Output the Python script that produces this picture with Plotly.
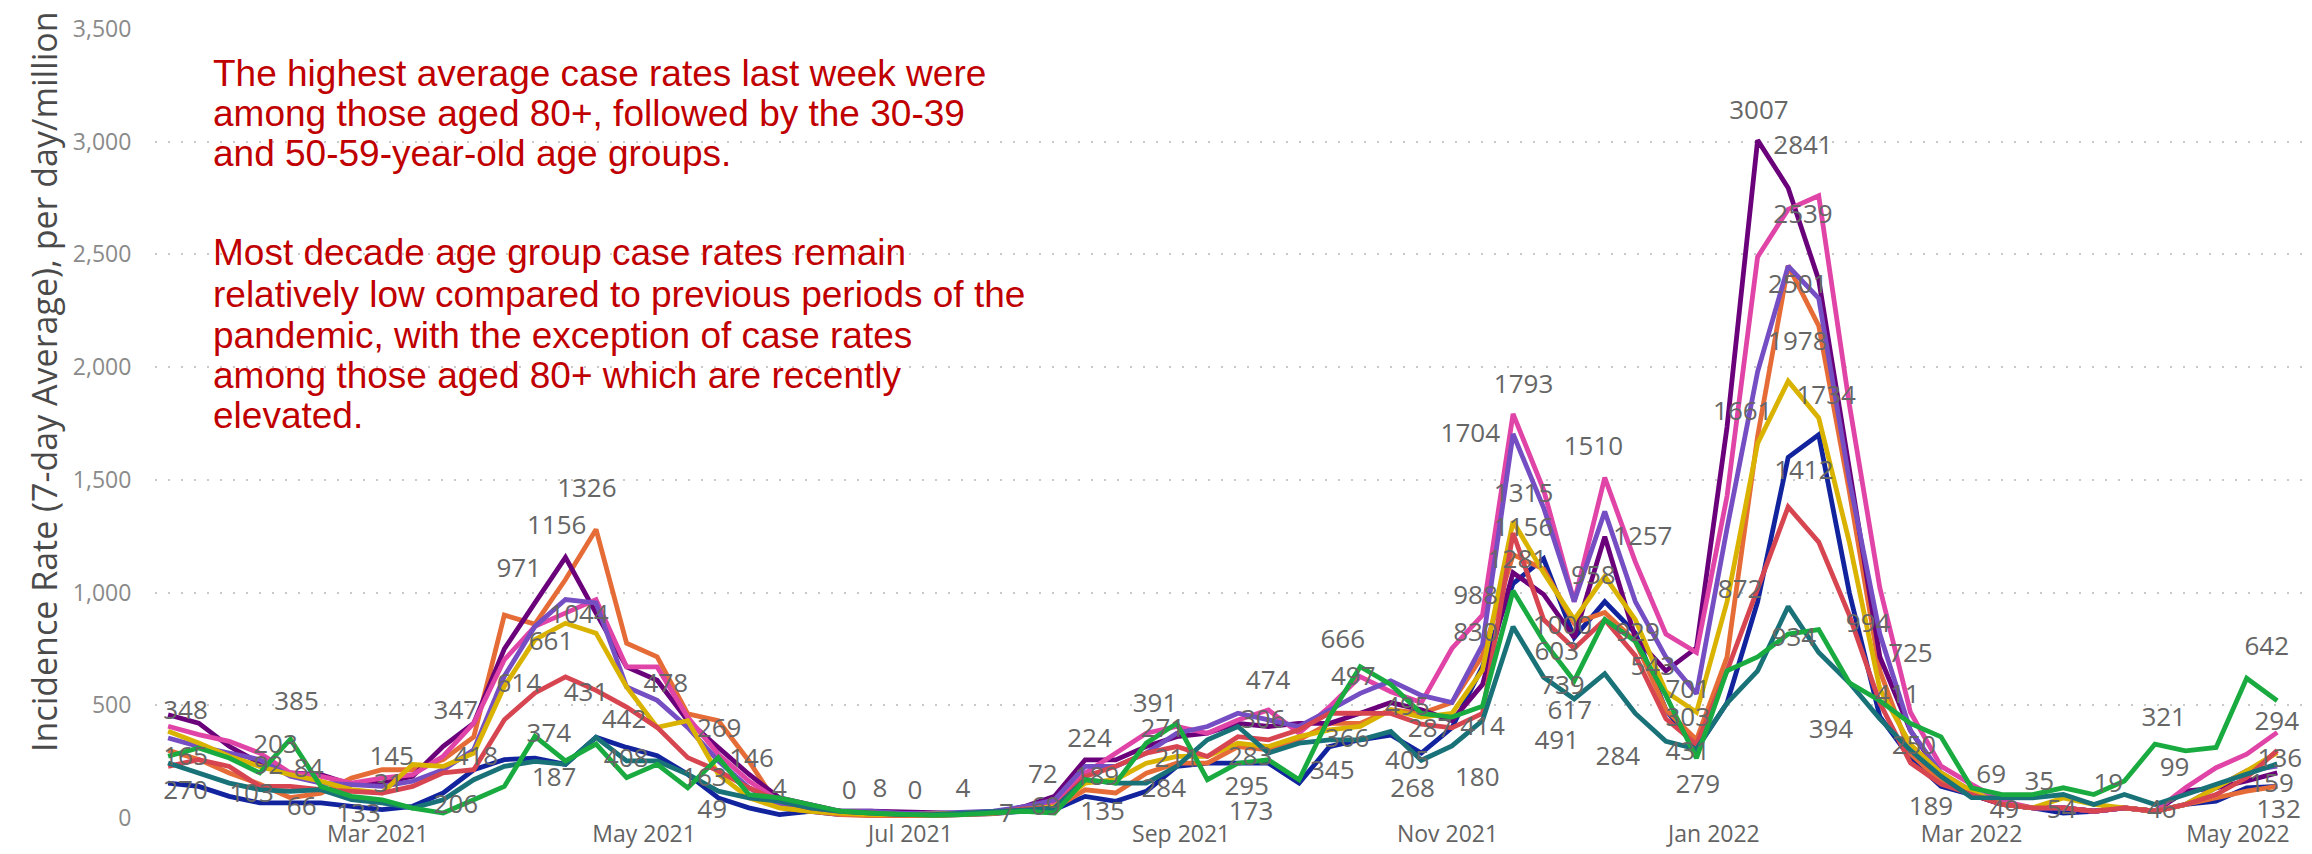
import pandas as pd
import plotly.graph_objects as go

# ---------------- data ----------------
start_date = "2021-01-12"
n_points = 70
dates = pd.date_range(start_date, periods=n_points, freq="7D")

age_0_9 = [155, 140, 96, 67, 67, 67, 52, 37, 52, 111,
           214, 259, 266, 238, 358, 313, 276, 194, 89, 45,
           15, 30, 15, 15, 7, 10, 15, 20, 30, 37,
           96, 74, 118, 229, 243, 243, 243, 155, 317, 347,
           368, 288, 400, 672, 1040, 1150, 800, 960, 820, 480,
           306, 510, 959, 1600, 1700, 1000, 449, 265, 140, 104,
           60, 45, 22, 30, 45, 30, 60, 75, 134, 140]
age_10_19 = [300, 260, 200, 150, 90, 110, 177, 214, 214, 259,
             360, 900, 860, 1058, 1280, 775, 715, 462, 432, 253,
             45, 30, 15, 10, 7, 10, 15, 20, 35, 44,
             125, 111, 199, 243, 243, 317, 302, 347, 420, 420,
             480, 464, 512, 720, 1168, 1104, 864, 912, 784, 480,
             347, 714, 1693, 2450, 2183, 1450, 653, 286, 160, 104,
             60, 45, 45, 30, 45, 30, 60, 89, 119, 140]
age_20_29 = [458, 421, 318, 244, 200, 192, 148, 155, 185, 318,
             421, 750, 954, 1156, 909, 670, 611, 432, 313, 194,
             89, 60, 30, 30, 25, 20, 20, 25, 50, 96,
             258, 258, 317, 361, 376, 420, 406, 420, 420, 465,
             512, 480, 432, 592, 1088, 992, 800, 1248, 800, 653,
             755, 1734, 3007, 2795, 2387, 1550, 714, 388, 190, 104,
             60, 45, 45, 30, 45, 30, 119, 134, 164, 200]
age_30_39 = [407, 370, 340, 288, 200, 185, 155, 177, 192, 274,
             421, 702, 850, 909, 969, 670, 670, 447, 283, 164,
             75, 45, 30, 22, 15, 15, 20, 25, 40, 66,
             199, 288, 376, 406, 376, 435, 479, 376, 494, 627,
             560, 512, 752, 900, 1793, 1456, 960, 1510, 1136, 816,
             734, 1428, 2489, 2700, 2760, 1836, 1020, 469, 230, 149,
             75, 45, 45, 30, 45, 30, 134, 223, 283, 380]
age_40_49 = [355, 318, 288, 259, 185, 155, 148, 140, 163, 214,
             303, 629, 850, 969, 954, 581, 522, 402, 253, 134,
             60, 45, 30, 30, 20, 20, 25, 30, 50, 81,
             229, 229, 288, 376, 406, 465, 435, 406, 479, 553,
             608, 544, 512, 768, 1704, 1376, 960, 1360, 960, 714,
             551, 1285, 1979, 2448, 2305, 1500, 816, 388, 200, 119,
             60, 45, 45, 30, 45, 30, 60, 134, 209, 230]
age_50_59 = [385, 333, 274, 229, 192, 163, 126, 111, 237, 229,
             288, 584, 791, 864, 820, 581, 402, 432, 194, 89,
             45, 30, 22, 15, 15, 15, 20, 25, 40, 50,
             155, 170, 243, 273, 273, 332, 317, 361, 391, 406,
             480, 448, 464, 656, 1315, 1088, 880, 1072, 880, 560,
             469, 959, 1661, 1938, 1775, 1224, 571, 326, 200, 119,
             60, 45, 89, 60, 45, 30, 60, 134, 209, 290]
age_60_69 = [229, 259, 229, 140, 140, 126, 118, 111, 140, 200,
             214, 436, 555, 626, 566, 492, 402, 268, 209, 134,
             75, 45, 30, 22, 15, 15, 20, 25, 40, 44,
             184, 229, 288, 317, 273, 361, 347, 391, 465, 465,
             464, 416, 400, 464, 1264, 880, 752, 880, 720, 440,
             326, 653, 1020, 1380, 1224, 900, 510, 245, 150, 104,
             60, 45, 45, 30, 45, 30, 60, 104, 179, 300]
age_70_79 = [244, 200, 155, 126, 118, 126, 81, 67, 44, 81,
             170, 229, 251, 238, 358, 253, 253, 194, 119, 89,
             75, 45, 30, 22, 15, 15, 20, 25, 35, 44,
             170, 155, 155, 229, 347, 406, 288, 332, 347, 347,
             384, 256, 320, 432, 848, 624, 528, 640, 464, 340,
             306, 510, 653, 938, 734, 600, 440, 300, 185, 90,
             89, 89, 104, 60, 104, 60, 104, 149, 194, 240]
age_80_plus = [274, 311, 266, 200, 350, 140, 96, 81, 44, 22,
               81, 140, 362, 253, 328, 179, 238, 134, 268, 104,
               89, 60, 30, 22, 15, 12, 15, 20, 30, 22,
               170, 155, 332, 420, 170, 243, 258, 170, 450, 671,
               592, 464, 448, 496, 1008, 784, 608, 880, 784, 544,
               265, 653, 714, 816, 836, 600, 520, 420, 360, 134,
               104, 104, 134, 104, 164, 328, 298, 313, 620, 520]

series_names = ["0-9", "10-19", "20-29", "30-39", "40-49",
                "50-59", "60-69", "70-79", "80+"]
series_values = [age_0_9, age_10_19, age_20_29, age_30_39, age_40_49,
                 age_50_59, age_60_69, age_70_79, age_80_plus]
series_colors = ["#12239E", "#E66C37", "#6B007B", "#E044A7", "#744EC2",
                 "#D9B300", "#D64550", "#197278", "#1AAB40"]

# data labels: text, days after 2021-03-01, value position
label_text = ["348", "165", "270", "385", "203", "92", "84", "103", "66", "133",
              "145", "31", "347", "418", "206", "614", "971", "661", "1156", "1326",
              "1044", "374", "187", "431", "442", "408", "478", "269", "163", "49",
              "146", "4", "0", "8", "0", "4", "7", "72", "69", "224",
              "189", "135", "391", "271", "211", "284", "474", "306", "283", "295",
              "173", "666", "497", "345", "366", "495", "405", "268", "287", "180",
              "414", "830", "988", "1704", "1793", "1315", "1156", "1281", "1510", "1257",
              "958", "1000", "603", "739", "617", "491", "284", "929", "543", "3007",
              "2841", "2539", "2501", "1978", "1734", "1661", "1412", "872", "934", "994",
              "725", "411", "701", "303", "431", "279", "394", "250", "189", "69",
              "49", "35", "54", "19", "46", "99", "321", "642", "294", "136",
              "159", "132"]
label_day = [-44, -44, -44, -18.6, -23.4, -25, -15.8, -28.9, -17.4, -4.4,
             3.2, 2.5, 17.9, 22.5, 17.9, 32.3, 32.3, 39.7, 41, 47.9,
             46.1, 39.2, 40.4, 47.7, 56.4, 56.9, 66, 78.2, 74.8, 76.6,
             85.6, 92, 108, 115, 123, 134, 144, 152.3, 153, 163,
             164.7, 166, 178, 179.8, 183, 180, 203.9, 202.8, 199.8, 199,
             200, 221, 223.4, 218.6, 222, 235.8, 235.8, 237, 241, 251.8,
             253, 251.4, 251.4, 250.2, 262.4, 262.4, 262.4, 261, 278.4, 289.7,
             278.4, 271.3, 270, 271.3, 273, 270, 284, 288.5, 292, 316.3,
             326.4, 326.4, 325.2, 325.2, 331.7, 312.6, 326.6, 312, 324.3, 341.3,
             351, 348, 300, 300, 300, 302.3, 332.8, 351.8, 355.7, 369.5,
             372.5, 380.5, 385.6, 396.3, 408.5, 411.5, 409, 432.6, 434.9, 435.6,
             433.7, 435.3]
label_y = [466, 266, 111, 510, 319, 222, 209, 102, 44, 13,
           266, 146, 466, 266, 53, 590, 1096, 776, 1287, 1451,
           896, 364, 169, 546, 430, 257, 590, 386, 169, 31,
           257, 120, 111, 120, 111, 120, 13, 186, 44, 342,
           177, 22, 501, 386, 257, 124, 599, 430, 266, 133,
           22, 785, 621, 200, 342, 484, 248, 120, 386, 169,
           395, 816, 976, 1695, 1912, 1429, 1282, 1136, 1637, 1242,
           1065, 847, 728, 581, 466, 337, 266, 816, 661, 3128,
           2973, 2667, 2356, 2103, 1864, 1793, 1531, 1003, 790, 856,
           719, 537, 563, 435, 288, 138, 382, 311, 44, 186,
           31, 155, 31, 142, 31, 213, 435, 754, 421, 253,
           142, 31]

y_ticks = [0, 500, 1000, 1500, 2000, 2500, 3000, 3500]
y_tick_text = ["0", "500", "1,000", "1,500", "2,000", "2,500", "3,000", "3,500"]
y_title = "Incidence Rate (7-day Average), per day/million"

note_lines = [
    "The highest average case rates last week were",
    "among those aged 80+, followed by the 30-39",
    "and 50-59-year-old age groups.",
    "Most decade age group case rates remain",
    "relatively low compared to previous periods of the",
    "pandemic, with the exception of case rates",
    "among those aged 80+ which are recently",
    "elevated.",
]

# ---------------- figure ----------------
W, H = 2312, 854
ML, MR, MT, MB = 147, 2, 21, 44
plot_w = W - ML - MR
plot_h = H - MT - MB

fig = go.Figure()
for name, vals, col in zip(series_names, series_values, series_colors):
    fig.add_trace(go.Scatter(
        x=dates, y=vals, mode="lines", name=name,
        line=dict(color=col, width=4.8), hoverinfo="x+y+name",
    ))

label_dates = pd.Timestamp("2021-03-01") + pd.to_timedelta(label_day, unit="D")
fig.add_trace(go.Scatter(
    x=label_dates, y=label_y, mode="text", text=label_text,
    textposition="middle center",
    textfont=dict(family="Segoe UI, Open Sans, sans-serif", size=26, color="#666666"),
    showlegend=False, hoverinfo="skip", cliponaxis=False,
))

# note text (one annotation per line)
line_px = [65, 105, 145, 245, 286, 327, 367, 407]
for txt, py in zip(note_lines, line_px):
    fig.add_annotation(
        xref="paper", yref="paper",
        x=(203 - ML) / plot_w, y=(H - MB - py) / plot_h,
        xanchor="left", yanchor="middle", showarrow=False,
        text=txt, font=dict(family="Liberation Sans, Arial, sans-serif", size=37, color="#C00000"),
    )

# y-axis title
fig.add_annotation(
    xref="paper", yref="paper",
    x=(36 - ML) / plot_w, y=(H - MB - 374) / plot_h,
    xanchor="center", yanchor="middle", showarrow=False, textangle=-90,
    text=y_title, font=dict(family="Segoe UI, Open Sans, sans-serif", size=34, color="#4a4a4a"),
)

fig.update_layout(
    width=W, height=H,
    margin=dict(l=ML, r=MR, t=MT, b=MB),
    paper_bgcolor="white", plot_bgcolor="white",
    showlegend=False,
    xaxis=dict(
        type="date",
        range=["2021-01-09", "2022-05-19 08:00"],
        tick0="2021-03-01", dtick="M2", tickformat="%b %Y",
        showgrid=False, zeroline=False, showline=False,
        ticks="", ticklen=0,
        tickfont=dict(family="Segoe UI, Open Sans, sans-serif", size=23, color="#636363"),
    ),
    yaxis=dict(
        range=[0, 3500],
        tickvals=y_ticks, ticktext=y_tick_text,
        showgrid=True, gridcolor="#c9c9c9", gridwidth=2, griddash="2px,11px",
        zeroline=False, showline=False,
        ticks="outside", ticklen=18, tickcolor="rgba(0,0,0,0)",
        tickfont=dict(family="Segoe UI, Open Sans, sans-serif", size=23, color="#8a8a8a"),
    ),
)

fig.write_html("out.html")
